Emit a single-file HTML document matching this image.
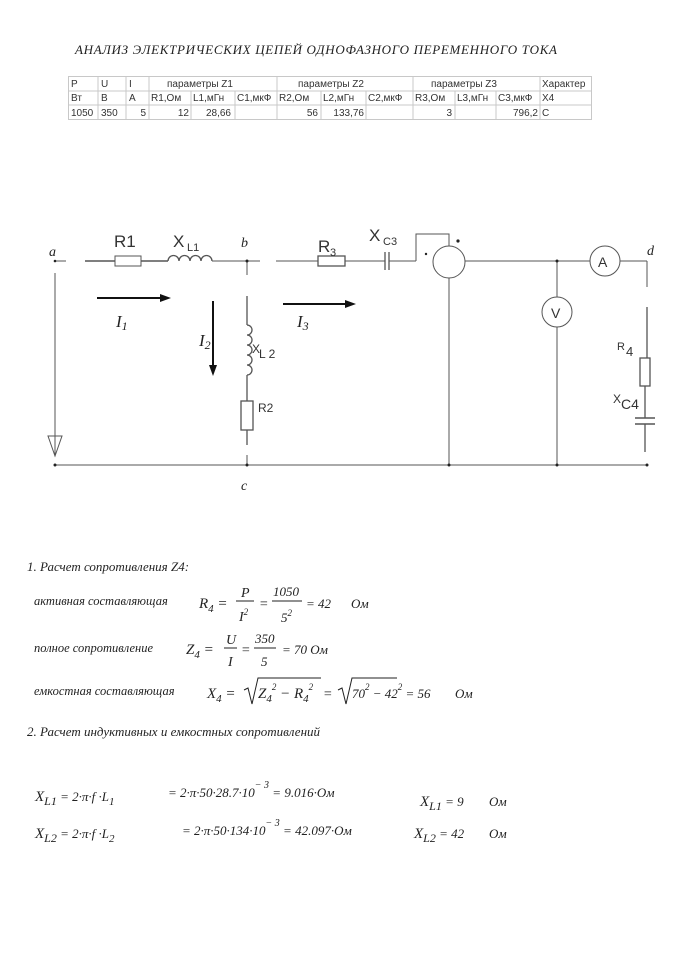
<!DOCTYPE html>
<html><head><meta charset="utf-8"><style>
html,body{margin:0;padding:0;background:#fff}
svg{display:block}
.t{font-family:"Liberation Serif",serif;font-style:italic;fill:#222}
.s{font-family:"Liberation Sans",sans-serif;fill:#333}
.tb{font-family:"Liberation Sans",sans-serif;font-size:10px;fill:#333}
</style></head><body>
<svg width="681" height="960" viewBox="0 0 681 960" xmlns="http://www.w3.org/2000/svg">
<text x="75" y="54" class="t" font-size="13" textLength="482" lengthAdjust="spacing">АНАЛИЗ ЭЛЕКТРИЧЕСКИХ ЦЕПЕЙ ОДНОФАЗНОГО ПЕРЕМЕННОГО ТОКА</text>
<!-- table -->
<g stroke="#c8c8c8" stroke-width="1" fill="none">
<rect x="68.5" y="76.5" width="523" height="43"/>
<line x1="68" y1="91" x2="592" y2="91"/><line x1="68" y1="105" x2="592" y2="105"/>
<line x1="98" y1="76" x2="98" y2="120"/><line x1="126" y1="76" x2="126" y2="120"/>
<line x1="149" y1="76" x2="149" y2="120"/><line x1="277" y1="76" x2="277" y2="120"/>
<line x1="413" y1="76" x2="413" y2="120"/><line x1="540" y1="76" x2="540" y2="120"/>
<line x1="191" y1="91" x2="191" y2="120"/><line x1="235" y1="91" x2="235" y2="120"/>
<line x1="321" y1="91" x2="321" y2="120"/><line x1="366" y1="91" x2="366" y2="120"/>
<line x1="455" y1="91" x2="455" y2="120"/><line x1="496" y1="91" x2="496" y2="120"/>
</g>
<g class="tb">
<text x="71" y="87">P</text><text x="101" y="87">U</text><text x="129" y="87">I</text>
<text x="167" y="87">параметры Z1</text><text x="298" y="87">параметры Z2</text><text x="431" y="87">параметры Z3</text><text x="542" y="87">Характер</text>
<text x="71" y="101">Вт</text><text x="101" y="101">В</text><text x="129" y="101">А</text>
<text x="151" y="101">R1,Ом</text><text x="193" y="101">L1,мГн</text><text x="237" y="101">C1,мкФ</text>
<text x="279" y="101">R2,Ом</text><text x="323" y="101">L2,мГн</text><text x="368" y="101">C2,мкФ</text>
<text x="415" y="101">R3,Ом</text><text x="457" y="101">L3,мГн</text><text x="498" y="101">C3,мкФ</text><text x="542" y="101">X4</text>
<text x="71" y="116">1050</text><text x="101" y="116">350</text><text x="146" y="116" text-anchor="end">5</text>
<text x="189" y="116" text-anchor="end">12</text><text x="231" y="116" text-anchor="end">28,66</text>
<text x="318" y="116" text-anchor="end">56</text><text x="364" y="116" text-anchor="end">133,76</text>
<text x="452" y="116" text-anchor="end">3</text><text x="538" y="116" text-anchor="end">796,2</text><text x="542" y="116">C</text>
</g>
<!-- circuit -->
<g stroke="#555" stroke-width="1" fill="none">
<line x1="55" y1="261" x2="66" y2="261"/>
<line x1="85" y1="261" x2="115" y2="261" stroke-width="1.5"/>
<rect x="115" y="256" width="26" height="10" fill="#fff"/>
<line x1="141" y1="261" x2="168" y2="261" stroke-width="1.5"/>
<path d="M168 261 a5.5 5.5 0 0 1 11 0 a5.5 5.5 0 0 1 11 0 a5.5 5.5 0 0 1 11 0 a5.5 5.5 0 0 1 11 0" stroke-width="1.3"/>
<line x1="212" y1="261" x2="260" y2="261"/>
<line x1="276" y1="261" x2="318" y2="261"/>
<rect x="318" y="256" width="27" height="10" stroke-width="1.3"/>
<line x1="345" y1="261" x2="385" y2="261"/>
<line x1="385" y1="252" x2="385" y2="270" stroke-width="1.3"/><line x1="389" y1="252" x2="389" y2="270" stroke-width="1.3"/>
<line x1="389" y1="261" x2="416" y2="261"/>
<polyline points="416,261 416,234 449,234 449,246"/>
<circle cx="449" cy="262" r="16"/>
<line x1="465" y1="261" x2="590" y2="261"/>
<circle cx="605" cy="261" r="15"/>
<line x1="620" y1="261" x2="647" y2="261"/>
<line x1="647" y1="261" x2="647" y2="287"/>
<line x1="647" y1="307" x2="647" y2="358" stroke-width="1.3"/>
<rect x="640" y="358" width="10" height="28" stroke-width="1.3"/>
<line x1="645" y1="386" x2="645" y2="418" stroke-width="1.3"/>
<line x1="635" y1="418" x2="655" y2="418" stroke-width="1.5"/><line x1="635" y1="424" x2="655" y2="424" stroke-width="1.5"/>
<line x1="645" y1="424" x2="645" y2="452" stroke-width="1.3"/>
<line x1="557" y1="261" x2="557" y2="297"/><circle cx="557" cy="312" r="15"/><line x1="557" y1="327" x2="557" y2="465"/>
<line x1="449" y1="278" x2="449" y2="465"/>
<line x1="247" y1="261" x2="247" y2="275"/>
<line x1="247" y1="296" x2="247" y2="325" stroke-width="1.3"/>
<path d="M247 325 a5 5 0 0 1 0 10 a5 5 0 0 1 0 10 a5 5 0 0 1 0 10 a5 5 0 0 1 0 10 a5 5 0 0 1 0 10" stroke-width="1.3"/>
<line x1="247" y1="375" x2="247" y2="401" stroke-width="1.3"/>
<rect x="241" y="401" width="12" height="29" stroke-width="1.3"/>
<line x1="247" y1="430" x2="247" y2="445" stroke-width="1.3"/>
<line x1="247" y1="455" x2="247" y2="465"/>
<line x1="55" y1="465" x2="648" y2="465"/>
<line x1="55" y1="273" x2="55" y2="455"/>
<path d="M48 436 L62 436 L55 456 Z"/>
</g>
<g fill="#222">
<circle cx="55" cy="261" r="1.3"/><circle cx="247" cy="261" r="1.5"/>
<circle cx="55" cy="465" r="1.5"/><circle cx="247" cy="465" r="1.5"/><circle cx="449" cy="465" r="1.5"/><circle cx="557" cy="465" r="1.5"/><circle cx="557" cy="261" r="1.5"/><circle cx="647" cy="465" r="1.5"/>
<circle cx="426" cy="254" r="1.2"/><circle cx="458" cy="241" r="1.6"/>
</g>
<g stroke="#111" stroke-width="2" fill="#111">
<line x1="97" y1="298" x2="162" y2="298"/><path d="M171 298 L160 294 L160 302 Z" stroke="none"/>
<line x1="283" y1="304" x2="347" y2="304"/><path d="M356 304 L345 300 L345 308 Z" stroke="none"/>
<line x1="213" y1="301" x2="213" y2="367"/><path d="M213 376 L209 365 L217 365 Z" stroke="none"/>
</g>
<g class="s">
<text x="114" y="247" font-size="17">R1</text>
<text x="173" y="247" font-size="17">X</text><text x="187" y="251" font-size="11">L1</text>
<text x="318" y="252" font-size="17">R</text><text x="330" y="256" font-size="11">3</text>
<text x="369" y="241" font-size="17">X</text><text x="383" y="245" font-size="11">C3</text>
<text x="252" y="353" font-size="12">X</text><text x="259" y="358" font-size="12">L 2</text>
<text x="258" y="412" font-size="12">R2</text>
<text x="617" y="350" font-size="11">R</text><text x="626" y="356" font-size="13">4</text>
<text x="613" y="403" font-size="12">X</text><text x="621" y="409" font-size="14">C4</text>
<text x="598" y="267" font-size="14">A</text>
<text x="551" y="318" font-size="14">V</text>
</g>
<g class="t">
<text x="49" y="256" font-size="14">a</text>
<text x="241" y="247" font-size="14">b</text>
<text x="241" y="490" font-size="14">c</text>
<text x="647" y="255" font-size="14">d</text>
<text x="116" y="327" font-size="17">I<tspan font-size="12" dy="3">1</tspan></text>
<text x="199" y="346" font-size="17">I<tspan font-size="12" dy="3">2</tspan></text>
<text x="297" y="327" font-size="17">I<tspan font-size="12" dy="3">3</tspan></text>
</g>
<!-- calculations -->
<g class="t" font-size="13">
<text x="27" y="571">1. Расчет сопротивления Z4:</text>
<text x="34" y="605" font-size="12.5">активная составляющая</text>
<text x="199" y="608" font-size="15">R<tspan font-size="11" dy="4">4</tspan><tspan dy="-4"> =</tspan></text>
<text x="241" y="597" font-size="14">P</text><line x1="236" y1="601" x2="254" y2="601" stroke="#222"/>
<text x="239" y="621" font-size="14">I<tspan font-size="9" dy="-6">2</tspan></text>
<text x="259" y="608" font-size="14">=</text>
<text x="273" y="596" font-size="13">1050</text><line x1="272" y1="601" x2="302" y2="601" stroke="#222"/>
<text x="281" y="622" font-size="13">5<tspan font-size="9" dy="-6">2</tspan></text>
<text x="306" y="608" font-size="13">= 42</text><text x="351" y="608" font-size="13">Ом</text>
<text x="34" y="652" font-size="12.5">полное сопротивление</text>
<text x="186" y="654" font-size="15">Z<tspan font-size="11" dy="4">4</tspan><tspan dy="-4"> =</tspan></text>
<text x="226" y="644" font-size="14">U</text><line x1="224" y1="648" x2="237" y2="648" stroke="#222"/>
<text x="228" y="666" font-size="14">I</text>
<text x="241" y="654" font-size="14">=</text>
<text x="255" y="643" font-size="13">350</text><line x1="254" y1="648" x2="276" y2="648" stroke="#222"/>
<text x="261" y="666" font-size="13">5</text>
<text x="282" y="654" font-size="13">= 70 Ом</text>
<text x="34" y="695" font-size="12.5">емкостная составляющая</text>
<text x="207" y="698" font-size="15">X<tspan font-size="11" dy="4">4</tspan><tspan dy="-4"> =</tspan></text>
<path d="M244 690 L248 688 L252 704 L258 678 L321 678" stroke="#222" fill="none"/>
<text x="258" y="698" font-size="15">Z<tspan font-size="11" dy="4">4</tspan><tspan font-size="9" dy="-12">2</tspan><tspan dy="8"> − R</tspan><tspan font-size="11" dy="4">4</tspan><tspan font-size="9" dy="-12">2</tspan></text>
<text x="323" y="698" font-size="14">=</text>
<path d="M338 690 L342 688 L346 704 L352 678 L397 678" stroke="#222" fill="none"/>
<text x="352" y="698" font-size="13">70<tspan font-size="9" dy="-8">2</tspan><tspan dy="8"> − 42</tspan><tspan font-size="9" dy="-8">2</tspan><tspan dy="8"> = 56</tspan></text>
<text x="455" y="698" font-size="13">Ом</text>
<text x="27" y="736">2. Расчет индуктивных и емкостных сопротивлений</text>
<text x="35" y="801" font-size="15">X<tspan font-size="12" dy="4">L1</tspan><tspan font-size="13" dy="-4"> = 2·π·f ·L</tspan><tspan font-size="11" dy="4">1</tspan></text>
<text x="168" y="797" font-size="13">= 2·π·50·28.7·10<tspan font-size="10" dy="-9">− 3</tspan><tspan dy="9"> = 9.016·Ом</tspan></text>
<text x="420" y="806" font-size="15">X<tspan font-size="12" dy="4">L1</tspan><tspan font-size="13" dy="-4"> = 9</tspan></text>
<text x="489" y="806" font-size="13">Ом</text>
<text x="35" y="838" font-size="15">X<tspan font-size="12" dy="4">L2</tspan><tspan font-size="13" dy="-4"> = 2·π·f ·L</tspan><tspan font-size="11" dy="4">2</tspan></text>
<text x="182" y="835" font-size="13">= 2·π·50·134·10<tspan font-size="10" dy="-9">− 3</tspan><tspan dy="9"> = 42.097·Ом</tspan></text>
<text x="414" y="838" font-size="15">X<tspan font-size="12" dy="4">L2</tspan><tspan font-size="13" dy="-4"> = 42</tspan></text>
<text x="489" y="838" font-size="13">Ом</text>
</g>
</svg>
</body></html>
